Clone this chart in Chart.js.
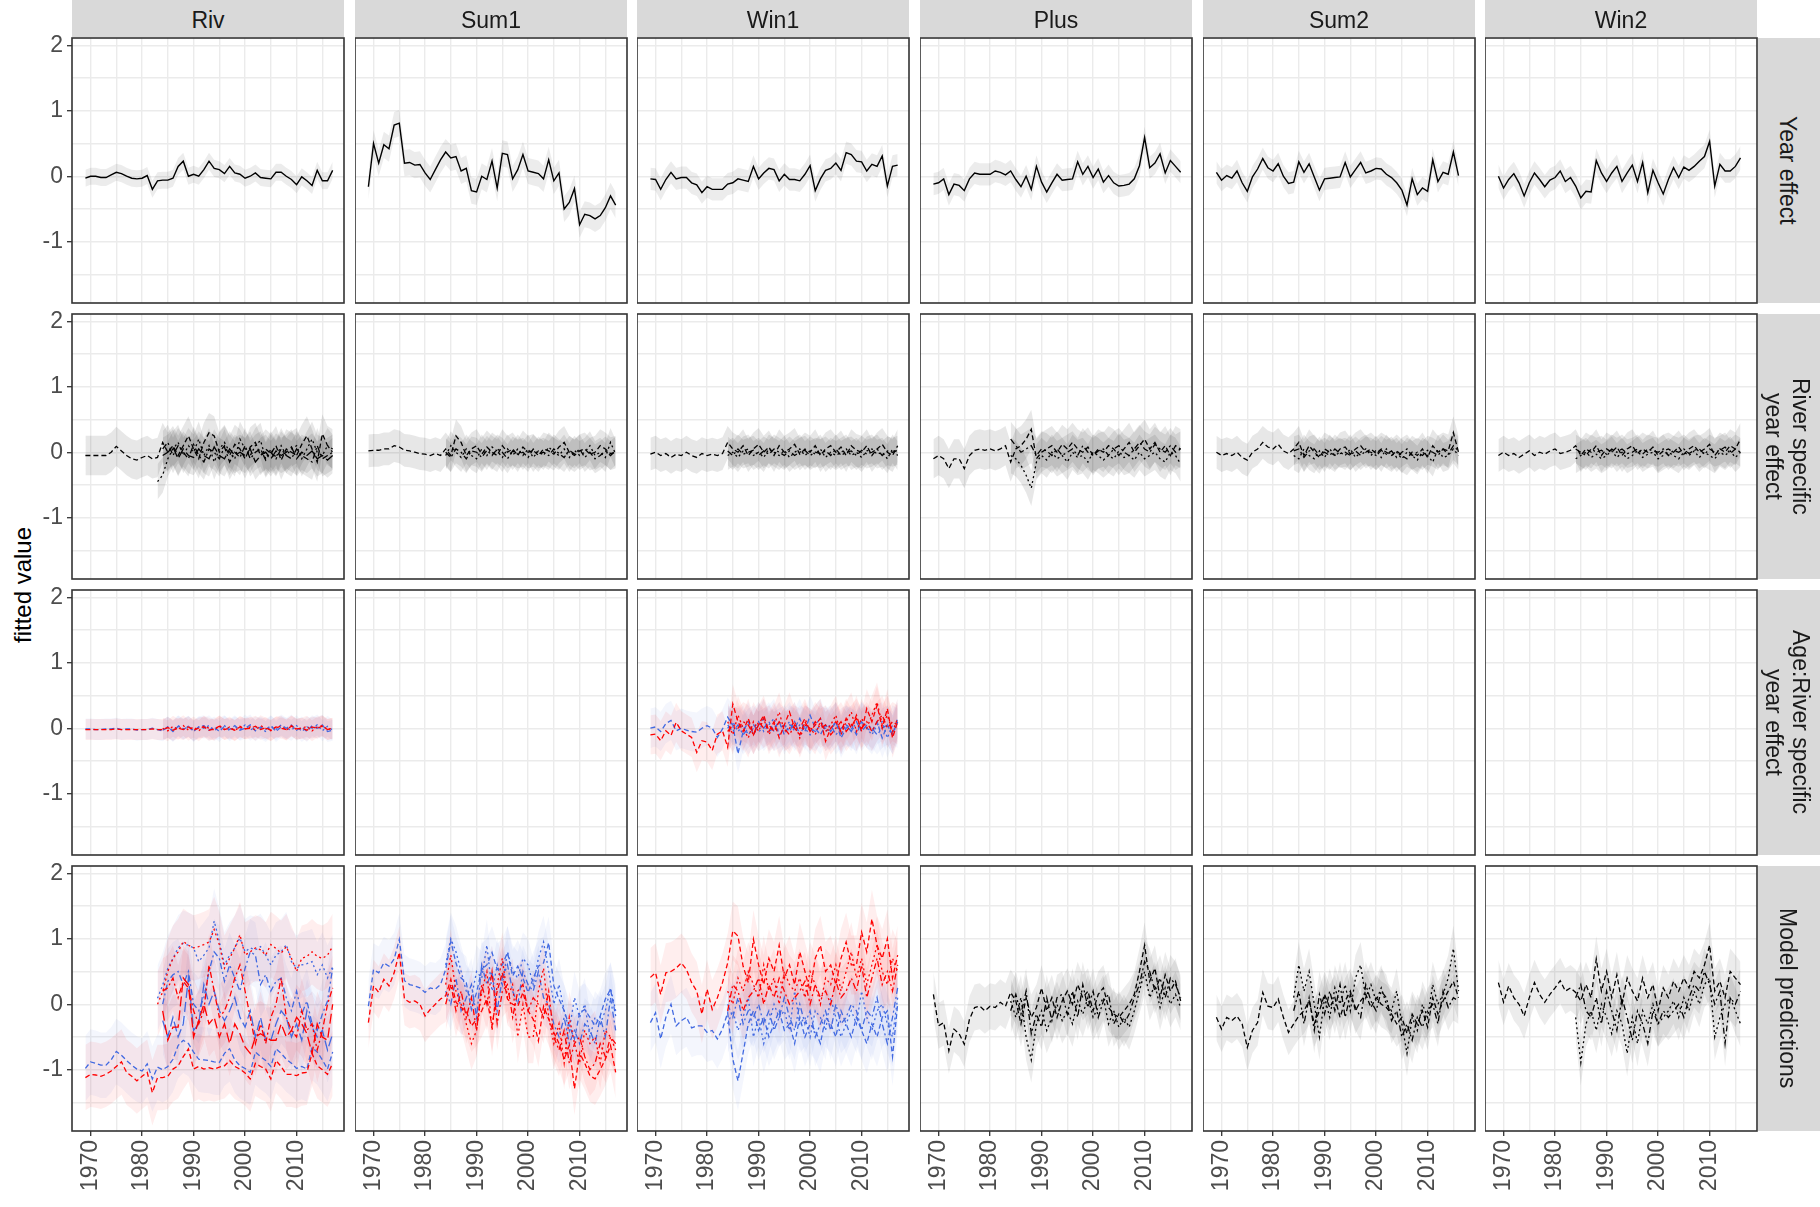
<!DOCTYPE html>
<html><head><meta charset="utf-8">
<script src="https://cdn.jsdelivr.net/npm/chart.js@4/dist/chart.umd.min.js"></script>
<style>
html,body{margin:0;padding:0;background:#fff;}
#fig{position:relative;width:1820px;height:1207px;overflow:hidden;background:#fff;font-family:'Liberation Sans',Arial,sans-serif;}
.strip-top{position:absolute;top:0;height:37px;background:#D9D9D9;color:#1A1A1A;font-size:23px;line-height:40px;text-align:center;}
.strip-right{position:absolute;left:1758px;width:62px;background:#D9D9D9;color:#1A1A1A;font-size:23px;display:flex;align-items:center;justify-content:center;}
.strip-right span{writing-mode:vertical-rl;line-height:27px;text-align:center;margin-left:-4px;}
.ytitle{position:absolute;left:23px;top:585px;transform:translate(-50%,-50%) rotate(-90deg);font-size:24px;white-space:nowrap;color:#000;}
.pw{position:absolute;}
</style></head><body><div id="fig"></div>
<script>
// ---------------- DATA ----------------
const YEARS = [1969,1970,1971,1972,1973,1974,1975,1976,1977,1978,1979,1980,1981,1982,1983,1984,1985,1986,1987,1988,1989,1990,1991,1992,1993,1994,1995,1996,1997,1998,1999,2000,2001,2002,2003,2004,2005,2006,2007,2008,2009,2010,2011,2012,2013,2014,2015,2016,2017];
const COLS = ["Riv","Sum1","Win1","Plus","Sum2","Win2"];
const ROWS = ["Year effect","River specific<br>year effect","Age:River specific<br>year effect","Model predictions"];
const X_TICKS = [1970,1975,1980,1985,1990,1995,2000,2005,2010,2015];
const Y_TICKS = [-1.5,-1,-0.5,0,0.5,1,1.5,2];
const FULL_START = 1969, LATE_START = 1984, RIV_LATE_START = 1983;

// Row 1: year effect
const yearRiv  = [-0.03,0.0,0.0,-0.02,-0.02,0.02,0.06,0.04,0.0,-0.03, -0.04,-0.03,0.01,-0.2,-0.07,-0.06,-0.06,-0.03,0.15,0.23, 0.0,0.03,0.0,0.1,0.23,0.12,0.1,0.04,0.15,0.05, 0.03,-0.03,0.0,0.05,-0.02,-0.03,-0.04,0.06,0.06,0.0, -0.05,-0.13,-0.01,-0.07,-0.14,0.09,-0.07,-0.07,0.09];
const yearSum1 = [-0.16,0.5,0.2,0.48,0.42,0.78,0.81,0.2,0.21,0.17, 0.18,0.05,-0.05,0.1,0.25,0.37,0.28,0.3,0.08,0.12, -0.22,-0.24,0.0,-0.05,0.23,-0.18,0.35,0.33,-0.04,0.1, 0.33,0.08,0.06,0.04,-0.04,0.25,-0.07,0.05,-0.5,-0.4, -0.19,-0.74,-0.58,-0.6,-0.65,-0.6,-0.48,-0.3,-0.44];
const yearWin1 = [-0.04,-0.05,-0.2,-0.05,0.06,-0.04,-0.02,-0.02,-0.1,-0.13, -0.25,-0.16,-0.2,-0.2,-0.2,-0.12,-0.1,-0.04,-0.06,-0.08, 0.15,-0.04,0.05,0.12,0.1,-0.07,0.03,-0.05,-0.05,-0.07, 0.03,0.16,-0.22,-0.04,0.09,0.12,0.2,0.09,0.36,0.33, 0.23,0.22,0.08,0.18,0.15,0.31,-0.15,0.15,0.17];
const yearPlus = [-0.12,-0.1,-0.04,-0.28,-0.12,-0.14,-0.22,-0.04,0.05,0.03, 0.03,0.03,0.08,0.06,0.02,0.08,-0.05,-0.16,0.0,-0.2, 0.15,-0.09,-0.24,-0.1,0.03,-0.06,-0.05,-0.04,0.22,0.03, 0.15,-0.02,0.11,-0.09,0.01,-0.1,-0.15,-0.14,-0.12,-0.04, 0.16,0.59,0.13,0.2,0.34,0.05,0.24,0.15,0.06];
const yearSum2 = [0.06,-0.06,0.01,-0.03,0.08,-0.1,-0.23,-0.01,0.11,0.27, 0.13,0.08,0.19,0.0,-0.11,-0.09,0.22,0.06,0.19,-0.01, -0.21,-0.04,-0.03,-0.02,-0.01,0.21,-0.01,0.1,0.21,0.05, 0.08,0.12,0.11,0.03,-0.02,-0.1,-0.21,-0.44,-0.04,-0.28, -0.18,-0.23,0.25,-0.08,0.06,0.03,0.37,0.01,null];
const yearWin2 = [0.0,-0.18,-0.05,0.04,-0.1,-0.3,-0.1,0.05,-0.05,-0.16, -0.06,-0.02,0.08,-0.08,-0.02,-0.15,-0.33,-0.23,-0.24,0.24, 0.05,-0.08,0.05,0.15,-0.08,0.05,0.17,-0.08,0.21,-0.25, 0.09,-0.1,-0.27,-0.05,0.13,-0.02,0.14,0.09,0.15,0.23, 0.3,0.53,-0.15,0.18,0.08,0.08,0.15,0.28,null];

// Row 2: river specific year effect
const rsRivA = [-0.05,-0.05,-0.05,-0.05,-0.05,0.0,0.09,0.02,-0.05,-0.1, -0.12,-0.08,-0.05,-0.1,-0.08,0.15,0.0,0.1,-0.05,0.1, 0.25,0.05,-0.1,0.15,0.3,0.25,0.0,0.1,-0.05,0.12, 0.05,-0.1,0.08,0.15,-0.05,0.05,-0.02,0.1,-0.12,0.05, 0.0,-0.05,0.12,0.25,0.05,-0.15,0.28,0.1,0.05];
const rsRivB = [-0.45,-0.35,-0.1,0.05,0.15,-0.05,0.1,0.0,0.2,-0.05, 0.1,-0.15,0.05,0.15,0.0,-0.1,0.2,0.05,-0.05,0.1, 0.18,-0.1,0.05,-0.08,0.1,-0.05,0.05,0.1,-0.1,0.05, 0.2,0.0,-0.05,0.1,0.0];
const rsRivC = [0.05,0.15,-0.05,0.1,0.0,-0.1,0.12,-0.05,-0.15,0.05, 0.0,-0.1,0.08,-0.15,0.0,-0.08,0.1,-0.1,0.0,0.05, -0.12,0.0,-0.1,0.05,-0.05,-0.1,0.05,-0.05,-0.1,-0.15, 0.1,-0.1,-0.05,0.0];
const rsRivD = [-0.05,0.0,0.08,-0.1,0.05,-0.05,-0.08,0.05,-0.05,-0.1, 0.08,-0.05,-0.1,0.05,-0.05,0.0,-0.05,0.05,-0.15,-0.05, 0.0,-0.1,0.02,-0.05,0.0,0.08,-0.1,0.0,-0.05,0.02, -0.1,-0.05,-0.12,-0.05];
const rsSum1A = [0.02,0.03,0.03,0.05,0.05,0.1,0.08,0.03,0.02,0.0, -0.02,-0.03,-0.05,-0.02,-0.05,0.05,-0.05,0.25,0.15,-0.05, 0.05,0.1,-0.03,0.08,0.0,-0.05,0.1,0.0,0.05,-0.05, 0.08,0.0,0.03,-0.05,0.05,0.02,-0.03,0.08,0.15,0.0, -0.05,0.02,0.05,-0.03,0.0,0.1,0.05,-0.02,0.0];
const rsSum1B = [-0.05,0.1,0.0,-0.08,0.05,-0.05,-0.1,0.05,-0.05,0.08, 0.02,-0.08,0.05,-0.05,0.05,-0.05,0.05,-0.08,0.02,-0.05, 0.08,0.0,-0.05,0.05,-0.08,0.03,-0.05,0.0,0.1,-0.05, 0.0,-0.08,0.15,-0.03];
const rsSum1C = [0.0,-0.08,0.05,0.0,-0.1,0.02,0.0,-0.08,0.03,-0.05, 0.05,0.0,-0.1,0.02,-0.03,0.0,-0.08,0.05,-0.03,0.0, -0.05,0.05,-0.02,-0.08,0.03,-0.03,0.05,-0.08,0.0,-0.1, -0.05,0.02,-0.05,0.02];
const rsWin1A = [-0.03,0.0,-0.05,-0.02,-0.08,-0.03,-0.05,0.0,-0.05,-0.08, -0.02,-0.05,-0.03,-0.05,-0.02,0.15,0.05,0.0,0.1,-0.05, 0.05,0.12,0.0,0.08,-0.05,0.1,0.0,0.05,0.12,-0.03, 0.05,0.0,0.1,-0.05,0.05,0.1,0.0,0.08,-0.05,0.1, 0.03,0.0,0.1,-0.05,0.05,0.12,0.0,-0.05,0.1];
const rsWin1B = [-0.05,0.0,-0.08,0.02,0.05,-0.05,0.0,-0.08,0.05,0.0, -0.05,0.03,-0.08,0.0,0.05,-0.05,0.02,-0.03,0.05,-0.08, 0.0,-0.05,0.0,0.05,-0.05,0.0,-0.08,0.02,0.05,-0.03, 0.0,-0.1,0.05,-0.05];
const rsWin1C = [0.02,-0.05,0.05,-0.03,0.0,0.03,-0.05,0.02,-0.03,0.05, 0.0,-0.05,0.02,-0.05,0.0,0.03,-0.05,0.0,-0.02,0.02, -0.05,0.05,-0.05,0.0,0.02,-0.05,0.03,-0.03,0.0,0.05, -0.05,0.02,0.0,0.03];
const rsPlusA = [-0.1,-0.05,-0.1,-0.25,-0.1,-0.1,-0.25,-0.05,0.03,0.05, 0.03,0.05,0.02,0.05,0.1,-0.15,0.05,0.1,0.2,0.35, -0.1,0.0,0.05,0.1,0.0,0.12,0.05,0.15,0.05,0.0, 0.08,-0.05,0.05,0.0,0.1,0.05,-0.05,0.05,0.15,0.0, 0.1,0.2,0.05,0.15,0.0,0.1,-0.05,0.1,0.05];
const rsPlusB = [-0.05,-0.1,-0.2,-0.35,-0.55,-0.15,-0.05,-0.12,0.0,-0.1, -0.05,-0.15,0.0,-0.08,-0.05,-0.15,0.0,-0.05,-0.12,-0.05, -0.1,0.02,-0.08,-0.05,-0.12,0.0,-0.1,-0.05,0.0,-0.1, -0.15,0.0,-0.05,-0.18];
const rsPlusC = [0.2,0.1,0.0,0.05,0.1,-0.05,0.05,0.02,-0.05,0.05, -0.05,0.0,0.05,-0.05,0.1,0.0,-0.05,0.02,0.05,-0.05, 0.05,0.1,0.0,-0.05,0.05,0.15,0.05,0.0,0.12,0.05, 0.0,0.1,0.0,0.05];
const rsSum2A = [0.0,-0.05,-0.02,-0.05,0.0,-0.08,-0.12,0.0,0.05,0.15, 0.08,0.05,0.12,0.02,-0.02,0.05,0.15,-0.05,0.1,0.0, -0.08,0.05,0.0,-0.05,0.05,0.08,-0.03,0.05,0.1,0.0, 0.05,-0.02,0.05,0.0,-0.05,0.02,-0.05,-0.1,0.0,-0.05, 0.05,-0.08,0.1,0.0,0.05,0.02,0.3,0.0,null];
const rsSum2B = [-0.05,-0.1,0.05,-0.05,-0.1,0.02,-0.08,0.05,-0.05,0.0, -0.05,0.05,-0.08,0.0,0.05,-0.05,0.03,-0.08,0.05,-0.05, 0.0,-0.1,0.0,-0.05,-0.12,0.0,-0.05,-0.15,0.05,-0.08, -0.05,0.05,-0.05,null];
const rsSum2C = [0.02,0.05,-0.08,0.02,0.05,-0.05,0.0,-0.05,0.05,-0.02, 0.0,-0.05,0.02,-0.05,0.02,0.0,-0.05,0.03,-0.03,0.02, -0.08,0.0,0.05,-0.05,0.0,-0.05,0.03,0.0,-0.05,0.05, -0.03,0.1,0.02,null];
const rsWin2A = [-0.05,0.0,-0.05,-0.02,-0.08,-0.03,0.02,-0.05,0.0,-0.03, 0.02,0.05,-0.02,0.0,0.03,0.1,-0.05,0.05,0.0,0.1, -0.05,0.05,0.0,0.08,-0.05,0.05,0.1,-0.02,0.05,0.0, 0.08,-0.05,0.02,0.05,0.0,0.08,-0.03,0.05,0.1,0.0, 0.05,0.12,-0.05,0.05,0.0,0.1,0.05,0.2,null];
const rsWin2B = [-0.1,-0.05,0.0,-0.08,-0.03,-0.1,-0.05,0.02,-0.08,0.0, -0.1,-0.05,0.02,-0.08,-0.03,0.0,-0.1,-0.05,0.0,-0.05, -0.1,0.0,-0.05,0.02,-0.08,0.0,-0.05,-0.1,0.0,-0.05, 0.02,-0.08,0.0,null];
const rsWin2C = [0.05,0.0,-0.05,0.05,0.0,0.03,-0.03,0.05,0.0,0.05, -0.02,0.0,0.05,-0.03,0.05,0.02,0.0,0.05,-0.05,0.03, 0.0,0.05,-0.02,0.03,0.05,-0.03,0.05,0.0,0.03,0.08, -0.02,0.05,0.0,null];

// Row 3: age:river specific year effect (red / blue)
const asRivRedA  = [-0.02,-0.02,-0.02,-0.02,-0.02,-0.02,-0.01,-0.02,-0.02,-0.02, -0.02,-0.02,-0.02,-0.01,-0.02,-0.02,0.01,-0.03,0.0,-0.02, 0.02,-0.03,0.0,0.02,-0.03,-0.01,0.03,-0.02,0.0,-0.03, 0.02,-0.01,0.0,0.03,-0.02,0.01,-0.03,0.02,0.0,-0.02, 0.03,-0.01,0.0,-0.03,0.02,0.0,0.03,-0.02,0.0];
const asRivBlueA = [-0.01,-0.01,-0.02,-0.02,-0.01,-0.01,0.0,-0.02,-0.01,-0.01, -0.03,-0.02,-0.02,0.0,-0.02,-0.04,0.02,-0.05,0.03,-0.02, 0.03,-0.04,0.02,0.04,-0.03,0.02,-0.05,0.03,-0.02,0.04, -0.03,0.0,0.05,-0.04,0.02,-0.02,0.04,-0.05,0.02,0.0, 0.05,-0.03,0.02,-0.05,0.04,0.0,0.05,-0.05,-0.03];
const asRivRedB  = [0.0,-0.04,0.03,-0.02,0.04,-0.03,0.02,-0.04,0.03,0.0, -0.03,0.04,-0.02,0.02,-0.04,0.03,-0.01,0.02,-0.03,0.04, 0.0,-0.04,0.02,0.03,-0.03,0.04,-0.02,0.0,0.03,-0.04, 0.02,0.04,-0.02,0.0];
const asRivBlueB = [-0.03,0.02,-0.04,0.04,-0.01,0.03,-0.05,0.02,0.0,0.04, -0.03,0.0,0.04,-0.04,0.02,-0.02,0.05,-0.03,0.02,0.0, -0.05,0.03,-0.02,0.05,0.0,-0.03,0.04,-0.05,0.02,0.0, 0.05,-0.04,0.03,-0.03];
const asWin1RedA  = [-0.1,-0.09,-0.19,-0.04,-0.11,0.09,-0.04,-0.09,-0.14,-0.37, -0.19,-0.21,-0.34,-0.09,-0.04,-0.29,0.37,0.1,-0.05,0.15, -0.1,0.05,0.2,-0.05,0.1,-0.15,0.05,0.25,0.0,-0.1, 0.1,-0.05,0.05,0.15,-0.2,0.0,0.1,-0.05,0.15,0.0, 0.2,-0.05,0.3,0.1,0.35,0.0,0.3,-0.15,0.1];
const asWin1BlueA = [0.0,0.02,-0.05,0.07,0.12,-0.04,0.0,-0.03,-0.05,-0.06, 0.0,0.04,0.0,-0.14,-0.01,0.17,0.05,-0.39,-0.05,0.1, -0.1,0.05,0.15,-0.05,0.0,0.1,-0.1,0.05,0.0,0.15, -0.05,0.2,0.0,-0.1,0.05,-0.05,0.1,-0.15,0.0,0.05, -0.1,0.1,0.0,-0.05,0.1,-0.15,0.05,-0.1,0.15];
const asWin1RedB  = [0.1,-0.1,0.2,0.0,-0.15,0.1,-0.05,0.15,-0.1,0.05, 0.25,-0.05,0.0,0.1,-0.15,0.05,0.0,-0.1,0.1,-0.05, 0.05,0.2,-0.1,0.1,0.25,-0.05,0.15,0.0,0.2,0.4, 0.05,0.2,-0.05,0.15];
const asWin1BlueB = [0.0,0.1,-0.05,0.05,-0.1,0.0,0.1,-0.05,0.05,0.15, -0.1,0.0,0.1,-0.05,0.05,0.0,-0.1,0.05,0.15,-0.05, 0.0,0.1,-0.1,0.05,0.0,-0.05,0.1,0.0,-0.1,0.05, 0.1,-0.15,0.05,0.0];
const asWin1RedC  = [-0.05,0.05,0.0,0.1,0.05,-0.1,0.1,0.0,0.05,-0.05, 0.1,0.0,-0.1,0.05,0.0,0.15,-0.05,0.1,0.0,0.05, -0.1,0.0,0.1,-0.05,0.05,0.15,0.0,0.1,-0.05,0.1, 0.2,0.0,0.1,0.05];
const asWin1BlueC = [0.05,-0.05,0.05,-0.1,0.0,0.05,-0.05,0.0,0.1,-0.05, 0.0,0.05,-0.05,0.1,-0.1,0.05,0.0,-0.05,0.05,0.0, 0.05,-0.1,0.0,0.05,-0.05,0.1,-0.05,0.05,0.0,-0.1, 0.0,0.05,-0.1,0.1];

// Row 4: model predictions
const mpRivBlueA = [-0.98,-0.88,-0.9,-0.93,-0.93,-0.85,-0.72,-0.78,-0.86,-0.93, -0.99,-1.02,-0.91,-1.14,-0.96,-1.0,-0.95,-0.84,-0.63,-0.55, -0.6,-0.73,-0.84,-0.85,-0.86,-0.88,-0.89,-0.75,-0.68,-0.85, -0.94,-0.98,-1.04,-0.73,-0.8,-0.86,-0.95,-0.68,-0.75,-0.84, -0.9,-0.98,-0.95,-0.99,-0.66,-0.73,-0.85,-0.99,-0.73];
const mpRivRedA  = [-1.12,-1.07,-1.08,-1.1,-1.07,-1.02,-0.95,-0.88,-1.04,-1.1, -1.17,-1.1,-1.04,-1.35,-1.12,-1.12,-1.1,-0.99,-0.94,-0.8, -0.68,-0.99,-0.95,-0.99,-0.97,-0.99,-0.96,-0.94,-0.86,-0.95, -0.99,-1.05,-1.14,-0.9,-0.95,-0.99,-1.14,-0.86,-0.95,-1.07, -1.07,-1.09,-1.05,-1.04,-0.75,-0.94,-1.0,-1.07,-0.9];
const mpRivBlueB = [0.09,0.29,0.55,0.7,0.86,0.93,0.9,0.86,0.65,0.75, 0.86,1.27,0.96,0.6,0.75,0.86,1.01,0.8,0.86,0.83, 0.88,0.75,0.6,0.75,0.8,0.91,0.65,0.55,0.6,0.62, 0.65,0.45,0.6,0.4,0.57];
const mpRivRedB  = [0.0,0.19,0.5,0.7,0.8,0.96,0.9,0.86,0.88,0.91, 0.95,1.14,0.91,0.55,0.7,0.86,1.06,0.75,0.8,0.86, 0.83,0.75,0.91,0.85,0.78,0.88,0.7,0.5,0.7,0.73, 0.8,0.73,0.7,0.75,0.88];
const mpRivBlueC = [0.0,0.35,0.45,0.5,0.3,0.5,0.0,-0.1,0.1,0.5, 0.8,0.7,0.35,0.6,0.4,0.2,0.55,0.8,0.75,0.3, 0.45,0.2,0.35,0.4,0.1,-0.1,0.2,-0.15,0.05,-0.3, -0.4,-0.15,0.05,0.55];
const mpRivRedC  = [0.2,0.25,0.4,0.1,0.35,0.25,-0.1,-0.3,-0.1,0.6, 0.2,-0.2,-0.1,0.1,0.4,0.6,0.2,-0.2,-0.6,-0.3, -0.6,-0.2,0.0,0.4,-0.2,-0.4,-0.5,-0.1,-0.4,-0.3, -0.7,-0.4,0.0,0.25];
const mpRivBlueD = [-0.25,-0.5,-0.2,-0.5,-0.3,0.4,-0.4,-0.3,0.3,0.0, 0.2,-0.1,-0.25,-0.1,0.1,-0.2,-0.35,-0.1,-0.5,-0.2, -0.55,-0.55,-0.3,-0.1,-0.2,-0.5,-0.3,-0.55,-0.1,-0.35, -0.5,-0.4,-0.7,-0.45];
const mpRivRedD  = [-0.1,-0.55,-0.35,-0.35,0.4,0.3,-0.5,-0.25,0.0,-0.3, -0.2,-0.5,-0.3,-0.6,-0.3,-0.45,-0.65,-0.75,-0.5,-0.45, -0.5,-0.55,-0.55,-0.3,-0.5,-0.4,-0.2,-0.3,-0.45,-0.75, -0.3,-0.5,-0.55,0.0];
const mpSum1BlueA = [-0.03,0.53,0.48,0.63,0.58,0.69,0.99,0.36,0.3,0.28, 0.25,0.18,0.25,0.23,0.3,0.53,0.96,0.63,0.4,0.33, -0.08,0.18,0.53,0.6,0.79,0.53,0.6,0.79,0.43,0.58, 0.4,0.18,0.4,0.58,0.63,0.94,0.28,0.08,-0.1,-0.33, -0.53,-0.13,-0.08,-0.2,-0.33,-0.18,0.08,0.23,-0.18];
const mpSum1RedA  = [-0.28,0.28,0.18,0.38,0.28,0.48,0.79,0.08,0.03,0.05, 0.0,-0.18,-0.08,0.0,0.08,0.13,0.38,0.03,-0.05,-0.1, -0.33,-0.23,-0.1,0.08,-0.33,0.2,0.48,0.08,0.0,-0.03, 0.18,-0.1,-0.23,-0.56,-0.03,-0.23,-0.43,-0.6,-0.84,-0.63, -1.29,-0.74,-0.9,-1.09,-1.14,-1.0,-0.84,-0.63,-1.04];
const mpSum1BlueB = [0.6,1.0,0.8,0.5,0.2,0.1,0.5,0.4,0.9,0.2, 0.6,0.3,0.8,0.5,0.4,0.7,0.6,0.3,0.7,0.95, 0.5,0.0,0.3,-0.1,-0.4,0.1,-0.2,0.0,-0.5,-0.2, -0.3,-0.1,0.25,-0.1];
const mpSum1RedB  = [0.3,0.75,0.2,0.0,-0.3,-0.6,-0.4,0.2,0.5,-0.4, 0.3,0.7,0.1,0.3,-0.5,0.0,-0.5,-0.5,0.2,0.55, -0.2,-0.6,-0.3,-0.9,-0.2,-0.6,-0.9,-0.4,-0.6,-0.5, -0.9,-0.4,-0.5,-0.7];
const mpSum1BlueC = [0.2,0.0,0.4,-0.1,0.1,0.3,-0.2,0.6,0.3,0.5, -0.1,0.4,0.6,0.2,0.0,0.5,0.3,0.2,0.5,0.1, 0.0,-0.3,-0.5,-0.2,-0.6,-0.4,-0.6,-0.3,-0.4,-0.6, -0.2,-0.5,0.1,-0.4];
const mpSum1RedC  = [0.0,0.3,-0.1,0.2,-0.2,0.1,-0.4,0.3,0.0,0.5, -0.3,0.2,0.3,-0.2,0.2,0.3,-0.1,0.1,0.0,-0.2, 0.2,-0.5,-0.7,-0.4,-0.9,-0.6,-0.5,-0.8,-1.0,-0.9, -0.6,-0.8,-0.5,-0.6];
const mpWin1RedA  = [0.41,0.48,0.15,0.48,0.5,0.55,0.63,0.53,0.33,0.2, -0.15,0.23,-0.08,0.1,0.33,0.63,1.12,1.04,0.58,0.33, 0.99,0.6,0.3,0.7,0.5,0.9,0.4,0.6,0.3,0.8, 0.5,0.2,0.7,0.9,0.5,0.6,0.3,0.7,0.95,0.6, 0.6,1.1,0.8,1.3,0.9,0.7,1.0,0.4,0.75];
const mpWin1BlueA = [-0.28,-0.13,-0.53,-0.2,0.0,-0.33,-0.25,-0.2,-0.36,-0.33, -0.33,-0.43,-0.4,-0.53,-0.38,-0.13,-0.84,-1.17,-0.74,-0.3, -0.1,-0.4,-0.2,-0.5,-0.3,-0.1,-0.4,-0.3,-0.6,-0.2, -0.5,-0.3,-0.4,-0.6,-0.2,-0.3,-0.5,-0.1,-0.3,-0.5, -0.2,-0.4,-0.6,-0.3,-0.5,-0.2,-0.1,-0.8,0.0];
const mpWin1RedB  = [0.2,0.0,0.4,0.2,0.5,0.3,0.1,0.6,0.2,0.4, 0.0,0.5,0.3,0.2,0.4,0.1,0.5,0.3,0.0,0.4, 0.3,0.6,0.2,0.5,0.8,0.4,0.7,0.3,0.6,0.9, 0.5,0.3,0.7,0.5];
const mpWin1RedC  = [-0.1,0.3,0.2,-0.1,0.1,0.2,0.4,0.0,0.3,0.1, 0.4,0.2,0.0,0.1,0.2,0.35,0.0,0.3,0.1,0.2, 0.0,0.35,0.1,0.2,0.4,0.2,0.6,0.1,0.4,0.7, 0.3,0.5,0.2,0.6];
const mpWin1BlueB = [-0.3,-0.1,-0.4,-0.2,0.1,-0.5,-0.2,-0.6,-0.3,0.0, -0.2,-0.1,-0.4,0.2,-0.3,-0.2,-0.5,-0.1,-0.2,-0.4, 0.1,-0.2,-0.5,-0.3,-0.1,-0.3,0.2,-0.2,-0.4,-0.1, 0.0,-0.3,-0.5,0.1];
const mpWin1BlueC = [0.0,-0.2,0.1,-0.3,-0.1,-0.2,0.0,-0.3,-0.1,-0.4, -0.2,0.1,-0.2,-0.4,0.0,-0.3,-0.1,-0.5,-0.3,-0.1, -0.4,0.0,-0.3,-0.2,0.0,-0.1,-0.4,-0.1,-0.2,0.1, -0.3,-0.6,-0.2,0.25];
const mpPlusA = [0.15,-0.33,-0.28,-0.71,-0.38,-0.45,-0.61,-0.23,-0.05,-0.03, -0.1,-0.03,-0.05,0.03,-0.03,0.18,0.05,-0.3,0.1,-0.2, -0.05,0.25,-0.1,0.1,-0.2,0.05,0.2,0.0,0.3,0.1, 0.2,-0.1,0.15,0.25,-0.05,-0.15,-0.2,-0.1,0.0,0.15, 0.5,0.9,0.35,0.55,0.1,0.45,0.2,0.35,0.05];
const mpPlusB = [0.05,-0.2,0.1,-0.5,-0.85,-0.3,-0.1,-0.4,-0.2,0.0, -0.25,-0.1,-0.3,0.05,-0.15,0.1,-0.2,-0.05,0.1,-0.3, -0.1,-0.35,-0.2,-0.35,-0.1,0.2,0.5,0.1,0.3,-0.05, 0.25,0.0,0.15,-0.05];
const mpPlusC = [-0.1,0.15,-0.15,0.2,-0.45,-0.15,-0.35,0.1,-0.25,0.1, 0.15,-0.15,0.2,-0.2,0.3,-0.05,0.2,-0.2,0.05,0.15, -0.3,-0.15,-0.3,-0.15,0.1,0.3,0.65,0.5,0.2,0.4, 0.1,0.4,0.3,0.1];
const mpSum2A = [-0.2,-0.38,-0.2,-0.25,-0.18,-0.3,-0.66,-0.4,-0.28,0.18, -0.03,-0.05,0.08,-0.2,-0.43,-0.3,-0.18,-0.1,0.05,-0.3, -0.1,0.15,-0.05,0.1,-0.2,0.05,0.2,-0.1,0.05,0.15, -0.05,0.1,0.0,-0.05,-0.15,-0.3,-0.2,-0.45,-0.15,-0.3, -0.1,-0.35,0.1,-0.15,0.05,0.2,0.35,0.1,null];
const mpSum2B = [0.1,0.6,0.2,0.5,0.0,-0.5,0.1,-0.2,0.25,0.0, 0.3,-0.1,0.4,0.6,0.1,0.3,0.05,0.25,0.0,-0.1, 0.2,-0.3,-0.75,-0.2,-0.4,0.0,-0.2,0.3,0.0,0.15, 0.4,0.85,0.2,null];
const mpSum2C = [-0.1,0.2,-0.3,0.1,-0.4,0.15,-0.15,0.2,-0.1,0.3, -0.2,0.15,-0.05,-0.2,0.3,0.05,-0.1,0.2,0.1,-0.25, -0.1,-0.5,-0.3,-0.55,-0.2,-0.35,-0.1,0.0,-0.3,0.2, -0.05,0.1,0.05,null];
const mpWin2A = [0.33,0.03,0.28,0.1,0.0,-0.18,0.1,0.33,0.15,0.03, 0.15,0.25,0.36,0.2,0.25,0.18,0.05,0.3,0.1,0.69, 0.2,0.5,0.1,0.45,0.0,0.4,0.2,0.05,0.4,0.1, 0.3,-0.1,0.25,0.1,0.35,0.2,0.4,0.25,0.5,0.4, 0.6,0.9,0.2,0.35,0.1,0.5,0.4,0.3,null];
const mpWin2B = [-0.2,-0.89,-0.3,-0.1,-0.4,0.0,-0.2,-0.45,-0.1,-0.3, -0.75,-0.2,-0.6,-0.1,-0.3,0.0,-0.3,-0.2,-0.1,0.05, -0.2,0.1,-0.1,0.2,0.0,0.3,0.4,-0.5,-0.2,0.0, 0.1,-0.1,-0.3,null];
const mpWin2C = [0.1,0.3,-0.1,-0.2,0.1,-0.3,0.2,-0.1,-0.4,0.1, -0.2,-0.55,-0.1,-0.3,-0.6,-0.1,-0.3,-0.1,-0.2,-0.1, 0.0,-0.2,0.1,0.3,0.2,0.5,0.3,0.0,0.2,-0.6, 0.1,0.0,0.2,null];

// ribbon half-widths (uncertainty), per column
const BAND_YEAR = [0.13,0.2,0.17,0.17,0.17,0.18];
const BAND_RS_FULL = [0.3,0.25,0.25,0.3,0.25,0.25];
const BAND_RS_LATE = [0.27,0.22,0.22,0.27,0.22,0.22];
const BAND_AS = [0.16,0,0.3,0,0,0];
const BAND_MP = [0.5,0.4,0.45,0.35,0.35,0.35];

// ---------------- LAYOUT / STYLE ----------------
const PANEL_X = [72,355,637,920,1203,1485];
const PANEL_Y = [38,314,590,866];
const PANEL_W = 272, PANEL_H = 265, YAXIS_W = 34, XAXIS_H = 72;
const PAD_T = 22, PAD_B = 22, PAD_R = 20;
const FONT = "'Liberation Sans', Arial, sans-serif";
const LINE_COLOR = {k:'#000000', r:'#FF0000', b:'#4169E1'};
const FILL_COLOR = {k:'rgba(0,0,0,0.075)', r:'rgba(255,0,0,0.065)', b:'rgba(65,105,225,0.06)'};
const FILL_RS = 'rgba(0,0,0,0.095)';
const DASHES = [[], [5,3], [2,3], [6,3,2,3], [10,4]];

const S = (vals, start, kind, lt, band) => ({vals, start, kind, lt, band});

const PANELS = [
  {r:0,c:0,series:[S(yearRiv,FULL_START,'k',0,BAND_YEAR[0])]},
  {r:0,c:1,series:[S(yearSum1,FULL_START,'k',0,BAND_YEAR[1])]},
  {r:0,c:2,series:[S(yearWin1,FULL_START,'k',0,BAND_YEAR[2])]},
  {r:0,c:3,series:[S(yearPlus,FULL_START,'k',0,BAND_YEAR[3])]},
  {r:0,c:4,series:[S(yearSum2,FULL_START,'k',0,BAND_YEAR[4])]},
  {r:0,c:5,series:[S(yearWin2,FULL_START,'k',0,BAND_YEAR[5])]},

  {r:1,c:0,series:[S(rsRivA,FULL_START,'k',1,BAND_RS_FULL[0]),S(rsRivB,RIV_LATE_START,'k',2,BAND_RS_LATE[0]),S(rsRivC,LATE_START,'k',3,BAND_RS_LATE[0]),S(rsRivD,LATE_START,'k',4,BAND_RS_LATE[0])]},
  {r:1,c:1,series:[S(rsSum1A,FULL_START,'k',1,BAND_RS_FULL[1]),S(rsSum1B,LATE_START,'k',2,BAND_RS_LATE[1]),S(rsSum1C,LATE_START,'k',3,BAND_RS_LATE[1])]},
  {r:1,c:2,series:[S(rsWin1A,FULL_START,'k',1,BAND_RS_FULL[2]),S(rsWin1B,LATE_START,'k',2,BAND_RS_LATE[2]),S(rsWin1C,LATE_START,'k',3,BAND_RS_LATE[2])]},
  {r:1,c:3,series:[S(rsPlusA,FULL_START,'k',1,BAND_RS_FULL[3]),S(rsPlusB,LATE_START,'k',2,BAND_RS_LATE[3]),S(rsPlusC,LATE_START,'k',3,BAND_RS_LATE[3])]},
  {r:1,c:4,series:[S(rsSum2A,FULL_START,'k',1,BAND_RS_FULL[4]),S(rsSum2B,LATE_START,'k',2,BAND_RS_LATE[4]),S(rsSum2C,LATE_START,'k',3,BAND_RS_LATE[4])]},
  {r:1,c:5,series:[S(rsWin2A,FULL_START,'k',1,BAND_RS_FULL[5]),S(rsWin2B,LATE_START,'k',2,BAND_RS_LATE[5]),S(rsWin2C,LATE_START,'k',3,BAND_RS_LATE[5])]},

  {r:2,c:0,series:[S(asRivRedA,FULL_START,'r',1,BAND_AS[0]),S(asRivBlueA,FULL_START,'b',1,BAND_AS[0]),S(asRivRedB,LATE_START,'r',2,BAND_AS[0]),S(asRivBlueB,LATE_START,'b',2,BAND_AS[0])]},
  {r:2,c:1,series:[]},
  {r:2,c:2,series:[S(asWin1RedA,FULL_START,'r',1,BAND_AS[2]),S(asWin1BlueA,FULL_START,'b',1,BAND_AS[2]),S(asWin1RedB,LATE_START,'r',2,BAND_AS[2]),S(asWin1BlueB,LATE_START,'b',2,BAND_AS[2]),S(asWin1RedC,LATE_START,'r',3,BAND_AS[2]),S(asWin1BlueC,LATE_START,'b',3,BAND_AS[2])]},
  {r:2,c:3,series:[]},
  {r:2,c:4,series:[]},
  {r:2,c:5,series:[]},

  {r:3,c:0,series:[S(mpRivRedA,FULL_START,'r',1,BAND_MP[0]),S(mpRivBlueA,FULL_START,'b',1,BAND_MP[0]),S(mpRivRedB,RIV_LATE_START,'r',2,BAND_MP[0]),S(mpRivBlueB,RIV_LATE_START,'b',2,BAND_MP[0]),S(mpRivRedC,LATE_START,'r',3,BAND_MP[0]),S(mpRivBlueC,LATE_START,'b',3,BAND_MP[0]),S(mpRivRedD,LATE_START,'r',4,BAND_MP[0]),S(mpRivBlueD,LATE_START,'b',4,BAND_MP[0])]},
  {r:3,c:1,series:[S(mpSum1RedA,FULL_START,'r',1,BAND_MP[1]),S(mpSum1BlueA,FULL_START,'b',1,BAND_MP[1]),S(mpSum1RedB,LATE_START,'r',2,BAND_MP[1]),S(mpSum1BlueB,LATE_START,'b',2,BAND_MP[1]),S(mpSum1RedC,LATE_START,'r',3,BAND_MP[1]),S(mpSum1BlueC,LATE_START,'b',3,BAND_MP[1])]},
  {r:3,c:2,series:[S(mpWin1RedA,FULL_START,'r',1,BAND_MP[2]),S(mpWin1BlueA,FULL_START,'b',1,BAND_MP[2]),S(mpWin1RedB,LATE_START,'r',2,BAND_MP[2]),S(mpWin1BlueB,LATE_START,'b',2,BAND_MP[2]),S(mpWin1RedC,LATE_START,'r',3,BAND_MP[2]),S(mpWin1BlueC,LATE_START,'b',3,BAND_MP[2])]},
  {r:3,c:3,series:[S(mpPlusA,FULL_START,'k',1,BAND_MP[3]),S(mpPlusB,LATE_START,'k',2,BAND_MP[3]),S(mpPlusC,LATE_START,'k',3,BAND_MP[3])]},
  {r:3,c:4,series:[S(mpSum2A,FULL_START,'k',1,BAND_MP[4]),S(mpSum2B,LATE_START,'k',2,BAND_MP[4]),S(mpSum2C,LATE_START,'k',3,BAND_MP[4])]},
  {r:3,c:5,series:[S(mpWin2A,FULL_START,'k',1,BAND_MP[5]),S(mpWin2B,LATE_START,'k',2,BAND_MP[5]),S(mpWin2C,LATE_START,'k',3,BAND_MP[5])]}
];

// ---------------- BUILD ----------------
const fig = document.getElementById('fig');
const yt = document.createElement('div'); yt.className = 'ytitle'; yt.textContent = 'fitted value'; fig.appendChild(yt);

function pts(vals, start, off) {
  const i0 = YEARS.indexOf(start);
  return vals.map((v, i) => ({x: YEARS[i0 + i], y: v == null ? null : v + off}));
}

const borderPlugin = {
  id: 'panelBorder',
  afterDatasetsDraw(chart) {
    const {ctx, chartArea: a} = chart;
    ctx.save(); ctx.strokeStyle = '#333333'; ctx.lineWidth = 1.6;
    ctx.strokeRect(a.left, a.top, a.width, a.height); ctx.restore();
  }
};

const isMajorX = v => (v - 1970) % 10 === 0;
const isMajorY = v => Number.isInteger(v);

PANELS.forEach(p => {
  const left = p.c === 0, bottom = p.r === 3;
  const padB = bottom ? 0 : PAD_B;
  const L = PANEL_X[p.c] - (left ? YAXIS_W : 0);
  const T = PANEL_Y[p.r] - PAD_T;
  const W = PANEL_W + (left ? YAXIS_W : 0) + PAD_R;
  const H = PANEL_H + PAD_T + padB + (bottom ? XAXIS_H : 0);
  const wrap = document.createElement('div');
  wrap.className = 'pw';
  wrap.style.left = L + 'px'; wrap.style.top = T + 'px';
  wrap.style.width = W + 'px'; wrap.style.height = H + 'px';
  const cv = document.createElement('canvas');
  cv.width = W; cv.height = H; cv.style.width = W + 'px'; cv.style.height = H + 'px';
  wrap.appendChild(cv); fig.appendChild(wrap);

  const datasets = [];
  p.series.forEach(s => {
    const fc = (p.r === 1) ? FILL_RS : FILL_COLOR[s.kind];
    datasets.push({data: pts(s.vals, s.start, s.band), borderWidth: 0, borderColor: 'rgba(0,0,0,0)', pointRadius: 0,
      fill: '+1', backgroundColor: fc, order: 100, spanGaps: false});
    datasets.push({data: pts(s.vals, s.start, -s.band), borderWidth: 0, borderColor: 'rgba(0,0,0,0)', pointRadius: 0,
      fill: false, order: 100, spanGaps: false});
  });
  p.series.forEach(s => {
    datasets.push({data: pts(s.vals, s.start, 0), borderColor: LINE_COLOR[s.kind], borderWidth: s.lt === 0 ? 1.4 : 1.3,
      borderDash: DASHES[s.lt], pointRadius: 0, fill: false, tension: 0, spanGaps: false,
      order: s.kind === 'b' ? 2 : 1});
  });

  new Chart(cv, {
    type: 'line',
    data: {datasets},
    plugins: [borderPlugin],
    options: {
      responsive: false, animation: false, devicePixelRatio: 1,
      layout: {padding: {top: PAD_T, left: 0, right: PAD_R, bottom: padB}, autoPadding: false},
      plugins: {legend: {display: false}, tooltip: {enabled: false}, filler: {drawTime: 'beforeDatasetsDraw'}},
      events: [],
      scales: {
        x: {
          type: 'linear', min: 1966.4, max: 2019.2,
          afterBuildTicks: sc => { sc.ticks = X_TICKS.map(v => ({value: v})); },
          afterFit: sc => { sc.height = bottom ? XAXIS_H : 0; },
          border: {display: false},
          grid: {
            color: '#EBEBEB', lineWidth: 1.4,
            drawTicks: bottom, tickLength: 5, tickWidth: 1.3,
            tickColor: ctx => (ctx.tick && isMajorX(ctx.tick.value)) ? '#333333' : 'rgba(0,0,0,0)'
          },
          ticks: {
            display: bottom, autoSkip: false, minRotation: 90, maxRotation: 90, padding: 4,
            color: '#4D4D4D', font: {family: FONT, size: 23},
            callback: v => isMajorX(v) ? String(v) : ''
          }
        },
        y: {
          type: 'linear', min: -1.935, max: 2.11,
          afterBuildTicks: sc => { sc.ticks = Y_TICKS.map(v => ({value: v})); },
          afterFit: sc => { sc.width = left ? YAXIS_W : 0; },
          border: {display: false},
          grid: {
            color: '#EBEBEB', lineWidth: 1.4,
            drawTicks: left, tickLength: 5, tickWidth: 1.3,
            tickColor: ctx => (ctx.tick && isMajorY(ctx.tick.value)) ? '#333333' : 'rgba(0,0,0,0)'
          },
          ticks: {
            display: left, autoSkip: false, padding: 4,
            color: '#4D4D4D', font: {family: FONT, size: 23},
            callback: v => isMajorY(v) ? String(v) : ''
          }
        }
      }
    }
  });
});

// strips drawn above canvases
COLS.forEach((name, c) => {
  const d = document.createElement('div');
  d.className = 'strip-top';
  d.style.left = PANEL_X[c] + 'px'; d.style.width = PANEL_W + 'px';
  d.textContent = name; fig.appendChild(d);
});
ROWS.forEach((name, r) => {
  const d = document.createElement('div');
  d.className = 'strip-right';
  d.style.top = PANEL_Y[r] + 'px'; d.style.height = PANEL_H + 'px';
  d.innerHTML = '<span>' + name + '</span>'; fig.appendChild(d);
});
</script></body></html>
